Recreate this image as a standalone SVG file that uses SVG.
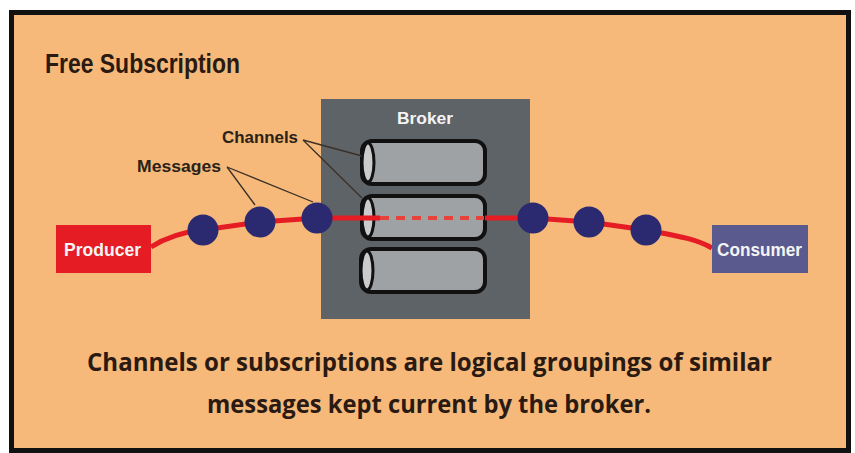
<svg xmlns="http://www.w3.org/2000/svg" width="855" height="453" viewBox="0 0 855 453">
<style>
.title{font-family:"Liberation Sans Narrow","Liberation Sans",Arial,sans-serif;font-weight:bold;fill:#2a1a12}
.lbl{font-family:"Liberation Sans Narrow","Liberation Sans",Arial,sans-serif;font-weight:bold;fill:#2a2218;font-size:17px}
.wt{font-family:"Liberation Sans Narrow","Liberation Sans",Arial,sans-serif;font-weight:bold;fill:#f4f4f4}
.cap{font-family:"Open Sans","Lato",sans-serif;font-weight:bold;fill:#2a1a12;font-size:25px}
.cyl{fill:#9fa2a5;stroke:#111;stroke-width:4}
.capend{fill:#c9cbcd;stroke:#111;stroke-width:3}
.msg{fill:#2b2a70}
.red{fill:none;stroke:#e51c23;stroke-width:5}
.lead{fill:none;stroke:#3a3028;stroke-width:1.3}
</style>
<rect x="0" y="0" width="855" height="453" fill="#ffffff"/>
<rect id="frame" x="11.5" y="12.5" width="837" height="438" fill="#f6b97a" stroke="#111" stroke-width="5"/>
<text id="title" class="title" x="45" y="73" font-size="27" textLength="195" lengthAdjust="spacingAndGlyphs">Free Subscription</text>

<g id="broker">
  <rect x="321" y="99" width="209" height="220" fill="#5e6367"/>
  <text class="wt" x="397" y="124" font-size="17" textLength="56" lengthAdjust="spacingAndGlyphs">Broker</text>
</g>
<g id="channel-1">
  <rect class="cyl" x="362" y="141" width="123" height="43" rx="10"/>
  <ellipse class="capend" cx="368" cy="162.5" rx="6" ry="19.5"/>
</g>
<g id="channel-2">
  <rect class="cyl" x="362" y="196" width="123" height="43" rx="10"/>
  <ellipse class="capend" cx="368" cy="217.5" rx="6" ry="19.5"/>
</g>
<g id="channel-3">
  <rect class="cyl" x="361" y="249" width="124" height="43" rx="10"/>
  <ellipse class="capend" cx="367" cy="270.5" rx="6" ry="19.5"/>
</g>

<g id="connectors">
  <path class="red" d="M151,247 C168,236 184,232 203,230 L260,222 L317,218 L380,218"/>
  <path d="M380,218 L484,218" fill="none" stroke="#e8423a" stroke-width="4" stroke-dasharray="9 7"/>
  <path class="red" d="M485,218 L533,218 L589,222 L646,230 C672,235 695,238 712,248"/>
  <path class="lead" d="M303,140 L362,156 M303,140 L362,198"/>
  <path class="lead" d="M227,167 L255,205 M227,167 L313,202"/>
</g>

<g id="messages">
  <circle class="msg" cx="203" cy="230" r="15.5"/>
  <circle class="msg" cx="260" cy="222" r="15.5"/>
  <circle class="msg" cx="317" cy="218" r="15.5"/>
  <circle class="msg" cx="533" cy="218" r="15.5"/>
  <circle class="msg" cx="589" cy="222" r="15.5"/>
  <circle class="msg" cx="646" cy="230" r="15.5"/>
</g>

<g id="producer">
  <rect x="56" y="225" width="95" height="48" fill="#e51c23"/>
  <text class="wt" x="64" y="256" font-size="19" textLength="77" lengthAdjust="spacingAndGlyphs">Producer</text>
</g>
<g id="consumer">
  <rect x="712" y="225" width="96" height="48" fill="#5b5a8e"/>
  <text class="wt" x="717" y="256" font-size="19" textLength="85" lengthAdjust="spacingAndGlyphs">Consumer</text>
</g>

<g id="labels">
  <text class="lbl" x="222" y="143" textLength="76" lengthAdjust="spacingAndGlyphs">Channels</text>
  <text class="lbl" x="137" y="172" textLength="84" lengthAdjust="spacingAndGlyphs">Messages</text>
</g>

<g id="caption">
  <text class="cap" x="87" y="371" textLength="685" lengthAdjust="spacingAndGlyphs">Channels or subscriptions are logical groupings of similar</text>
  <text class="cap" x="207" y="413" textLength="444" lengthAdjust="spacingAndGlyphs">messages kept current by the broker.</text>
</g>
</svg>
